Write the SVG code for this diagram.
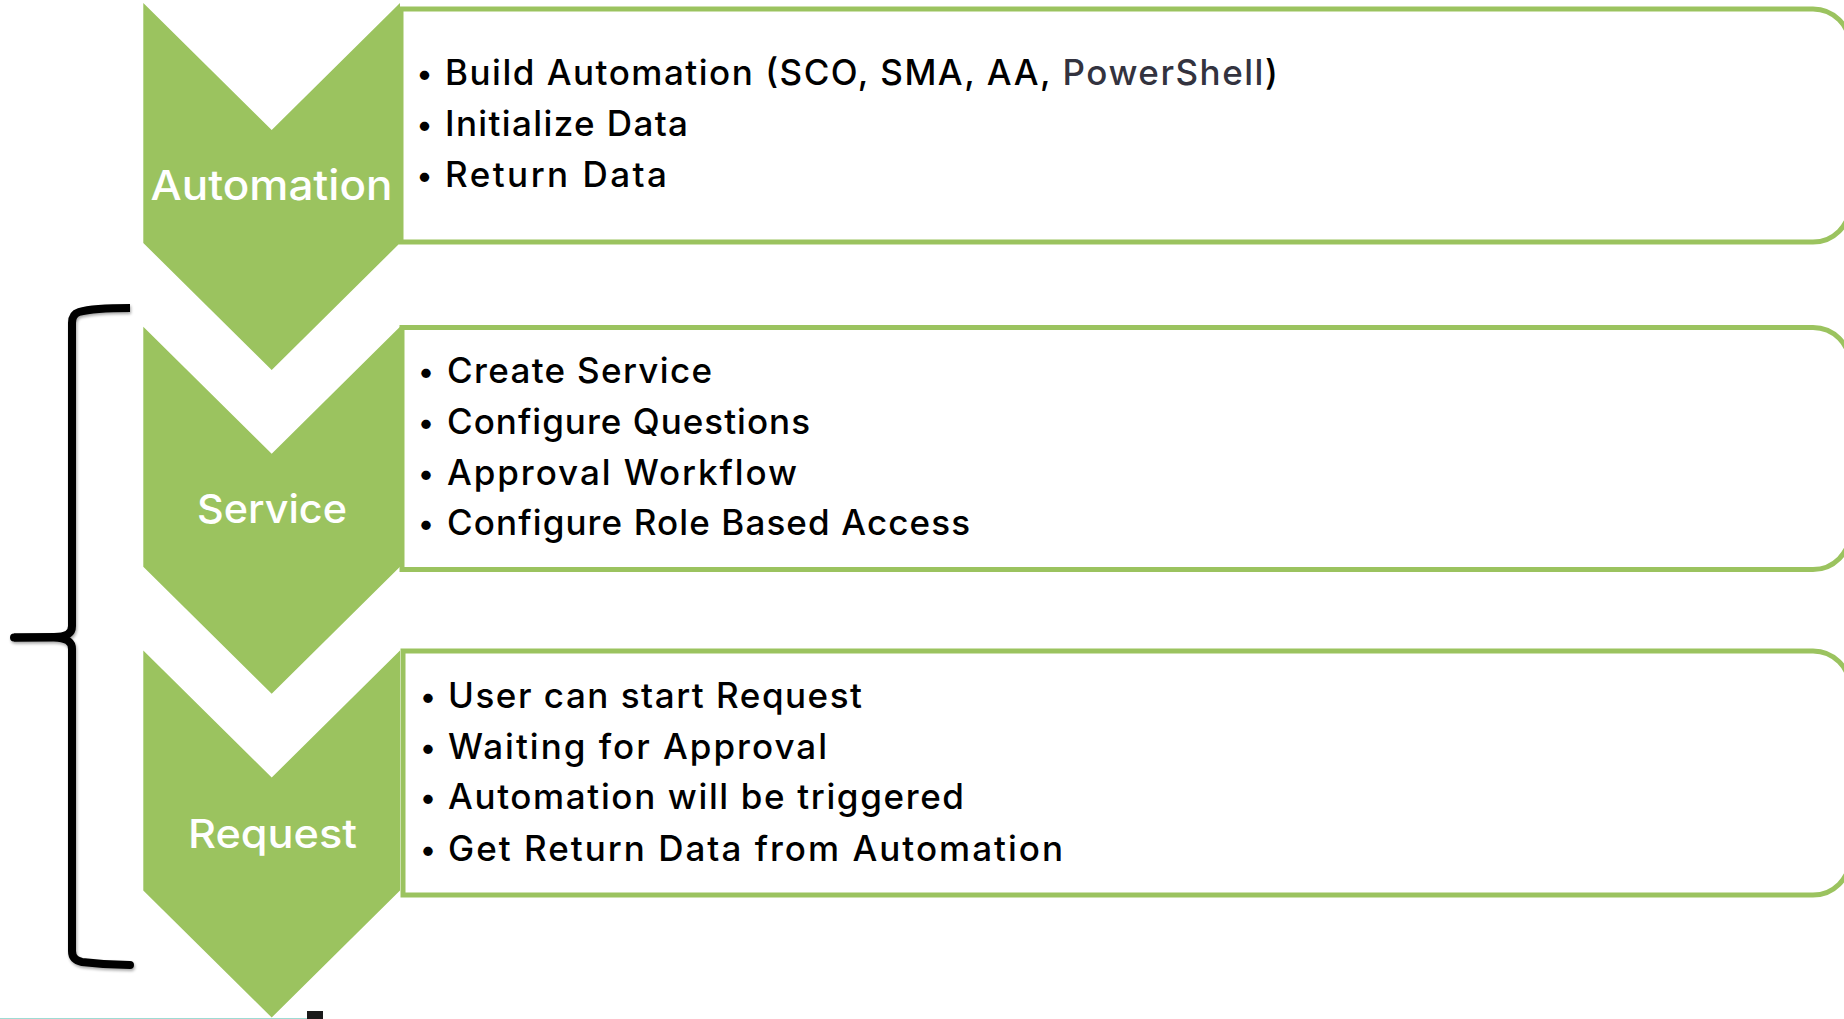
<svg xmlns="http://www.w3.org/2000/svg" width="1844" height="1019" viewBox="0 0 1844 1019">
  <defs>
    <filter id="shadow" x="-20%" y="-5%" width="140%" height="110%">
      <feGaussianBlur in="SourceAlpha" stdDeviation="1.5"/>
      <feOffset dx="1" dy="2" result="b"/>
      <feComponentTransfer><feFuncA type="linear" slope="0.35"/></feComponentTransfer>
      <feMerge><feMergeNode/><feMergeNode in="SourceGraphic"/></feMerge>
    </filter>
  </defs>
  <style>
    .box { fill: #ffffff; stroke: #9BC35F; stroke-width: 5; }
    .chev { fill: #9BC35F; }
    .label { font-family: Inter, "DejaVu Sans", sans-serif; font-weight: 500; font-size: 40px; fill: #ffffff; text-anchor: middle; }
    .item { font-family: Inter, "DejaVu Sans", sans-serif; font-weight: 500; font-size: 35px; fill: #000000; }
    .bul { font-family: Inter, "DejaVu Sans", sans-serif; font-weight: 500; font-size: 30px; fill: #000000; text-anchor: middle; }
    .ps { fill: #33333f; }
    .brace { fill: none; stroke: #000000; stroke-width: 8; stroke-linejoin: round; }
  </style>
  <rect width="1844" height="1019" fill="#ffffff"/>

  <g id="node-automation">
    <path class="box" d="M401,9 H1813 A37,37 0 0 1 1850,46 V205 A37,37 0 0 1 1813,242 H401 Z"/>
    <polygon class="chev" points="143.3,3 271.7,130 400,3 400,243 271.7,370 143.3,243"/>
    <text class="label" x="271.5" y="200" textLength="242" lengthAdjust="spacingAndGlyphs" style="font-size:41px">Automation</text>
    <text class="bul" x="424.5" y="84">•</text>
    <text class="item" x="445" y="85" textLength="833" lengthAdjust="spacing">Build Automation (SCO, SMA, AA, <tspan class="ps">PowerShell</tspan>)</text>
    <text class="bul" x="424.5" y="135">•</text>
    <text class="item" x="445" y="136" textLength="243" lengthAdjust="spacing">Initialize Data</text>
    <text class="bul" x="424.5" y="186">•</text>
    <text class="item" x="445" y="187" textLength="222" lengthAdjust="spacing">Return Data</text>
  </g>

  <g id="node-service">
    <path class="box" d="M402,327.5 H1813 A37,37 0 0 1 1850,364.5 V532.5 A37,37 0 0 1 1813,569.5 H402 Z"/>
    <polygon class="chev" points="143.3,326.7 271.7,453.7 400,326.7 400,566.7 271.7,693.7 143.3,566.7"/>
    <text class="label" x="272" y="523" textLength="150" lengthAdjust="spacingAndGlyphs">Service</text>
    <text class="bul" x="426" y="382">•</text>
    <text class="item" x="447" y="383" textLength="265" lengthAdjust="spacing">Create Service</text>
    <text class="bul" x="426" y="433">•</text>
    <text class="item" x="447" y="434" textLength="363" lengthAdjust="spacing">Configure Questions</text>
    <text class="bul" x="426" y="484">•</text>
    <text class="item" x="447" y="485" textLength="350" lengthAdjust="spacing">Approval Workflow</text>
    <text class="bul" x="426" y="534">•</text>
    <text class="item" x="447" y="535" textLength="523" lengthAdjust="spacing">Configure Role Based Access</text>
  </g>

  <g id="node-request">
    <path class="box" d="M403,651 H1813 A37,37 0 0 1 1850,688 V858 A37,37 0 0 1 1813,895 H403 Z"/>
    <polygon class="chev" points="143.3,650.5 271.7,777.5 400,650.5 400,890.5 271.7,1017.5 143.3,890.5"/>
    <text class="label" x="272.5" y="848" textLength="169" lengthAdjust="spacingAndGlyphs">Request</text>
    <text class="bul" x="428" y="707">•</text>
    <text class="item" x="448" y="708" textLength="414" lengthAdjust="spacing">User can start Request</text>
    <text class="bul" x="428" y="758">•</text>
    <text class="item" x="448" y="759" textLength="379" lengthAdjust="spacing">Waiting for Approval</text>
    <text class="bul" x="428" y="808">•</text>
    <text class="item" x="448" y="809" textLength="516" lengthAdjust="spacing">Automation will be triggered</text>
    <text class="bul" x="428" y="860">•</text>
    <text class="item" x="448" y="861" textLength="615" lengthAdjust="spacing">Get Return Data from Automation</text>
  </g>

  <g id="connectors">
    <g id="brace" filter="url(#shadow)">
      <path class="brace" d="M130,308 C105,308 86,310 79,312 Q72,314 72,323 L72,626 C72,634 66,637 54,637 L14,637.5"/>
      <path class="brace" stroke-linecap="round" d="M14,637.5 L54,637.5 C66,638 72,641 72,649 L72,951 Q72,960 82,962 C98,964 112,965 130,965"/>
    </g>
  </g>

  <g id="edge-artifacts">
    <rect x="0" y="1018" width="307" height="1" fill="#9fdcd4"/>
    <rect x="307" y="1011" width="16" height="8" fill="#1a1a1a"/>
  </g>
</svg>
